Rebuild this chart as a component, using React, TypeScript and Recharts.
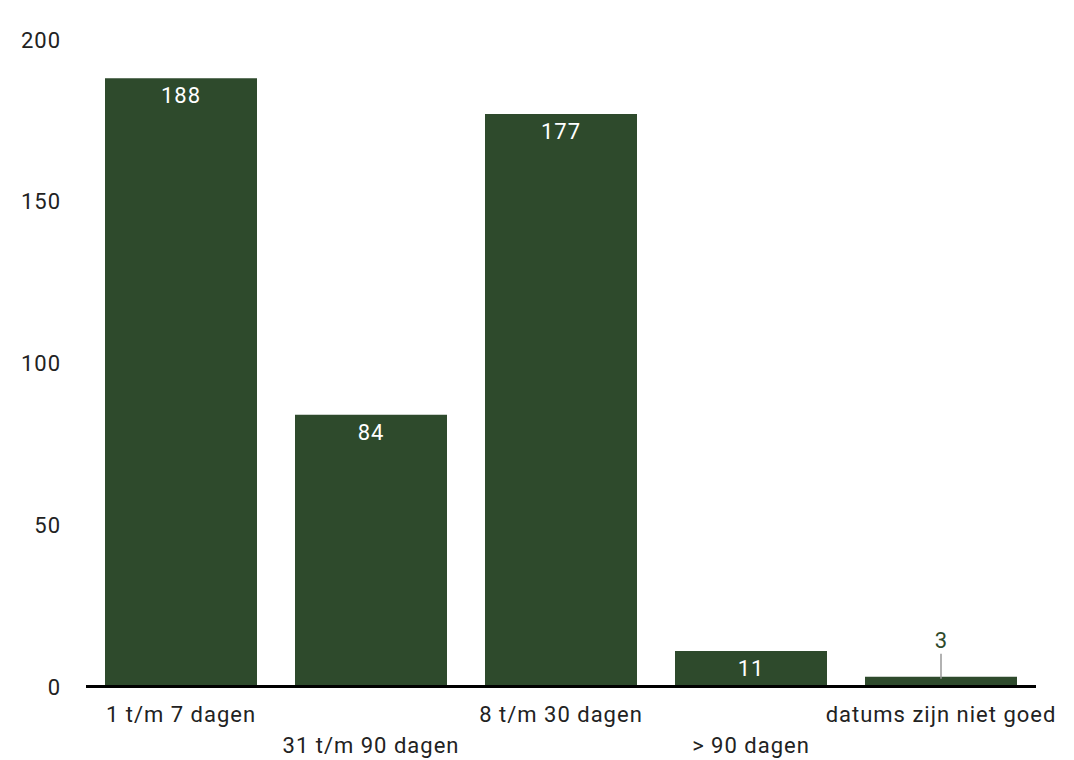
import { Bar, BarChart, LabelList, XAxis, YAxis } from 'recharts';

const categories = ['1 t/m 7 dagen', '31 t/m 90 dagen', '8 t/m 30 dagen', '> 90 dagen', 'datums zijn niet goed'];
const counts = [188, 84, 177, 11, 3];
const yTicks = [0, 50, 100, 150, 200];

const BAR_COLOR = '#2E4A2C';
const FONT = 'Roboto, sans-serif';

const data = categories.map((name, i) => ({ name, count: counts[i] }));

// x labels alternate between two rows so the long ones don't collide
const XTick = (props: any) => {
  const { x, y, payload, index } = props;
  const dy = index % 2 === 1 ? 31.5 : 0;
  return (
    <text x={x} y={y + dy} dy={27} textAnchor="middle" fill="#222" fontSize={22} letterSpacing={1} fontFamily={FONT}>
      {payload.value}
    </text>
  );
};

const YTick = (props: any) => {
  const { y, payload } = props;
  return (
    <text x={61} y={y} dy={8} textAnchor="end" fill="#222" fontSize={22} letterSpacing={1} fontFamily={FONT}>
      {payload.value}
    </text>
  );
};

const BarValue = (props: any) => {
  const { x, y, width, height, value } = props;
  const cx = x + width / 2;
  if (height > 30) {
    return (
      <text x={cx} y={y + 25} textAnchor="middle" fill="#fff" fontSize={22} letterSpacing={1} fontFamily={FONT}>
        {value}
      </text>
    );
  }
  // small bar: value above with a leader line
  return (
    <g>
      <line x1={cx} x2={cx} y1={y + 2} y2={y - 23} stroke="#999" strokeWidth={1.5} />
      <text x={cx} y={y - 29} textAnchor="middle" fill={BAR_COLOR} fontSize={22} fontFamily={FONT}>
        {value}
      </text>
    </g>
  );
};

export default function App() {
  return (
    <div style={{ position: 'absolute', left: 0, top: 0, width: 1074, height: 760, background: '#fff' }}>
      <BarChart
        width={1074}
        height={760}
        data={data}
        margin={{ top: 39.5, right: 38, bottom: 0, left: 0 }}
        barCategoryGap="10%"
        style={{ overflow: 'visible' }}
      >
        <XAxis
          dataKey="name"
          interval={0}
          tick={<XTick />}
          tickLine={false}
          axisLine={{ stroke: '#000', strokeWidth: 3 }}
          height={73.5}
        />
        <YAxis
          domain={[0, 200]}
          ticks={yTicks}
          tick={<YTick />}
          axisLine={false}
          tickLine={false}
          width={86}
        />
        <Bar dataKey="count" fill={BAR_COLOR} isAnimationActive={false}>
          <LabelList dataKey="count" content={<BarValue />} />
        </Bar>
      </BarChart>
    </div>
  );
}
